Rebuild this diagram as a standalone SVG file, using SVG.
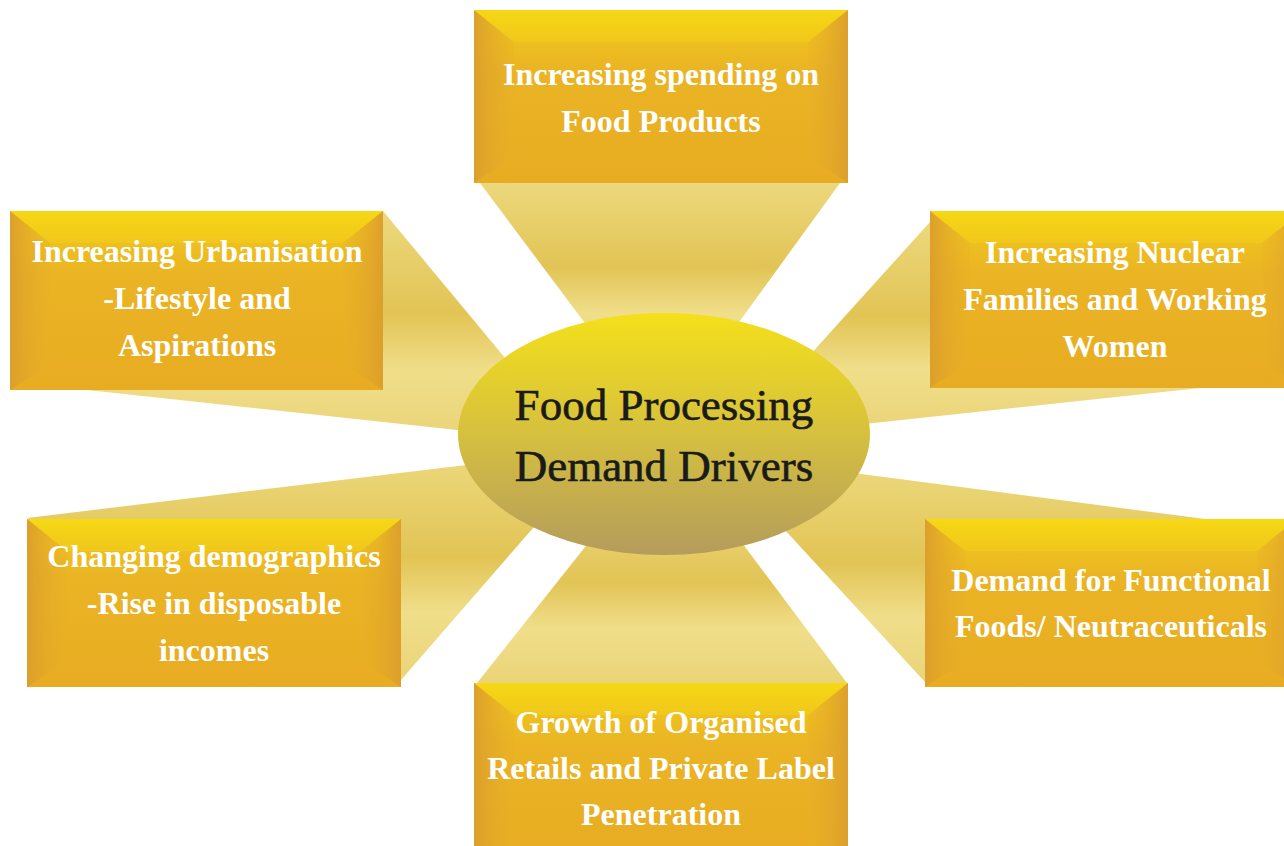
<svg xmlns="http://www.w3.org/2000/svg" width="1284" height="846" viewBox="0 0 1284 846">
<defs>
<linearGradient id="gBase" x1="0" y1="0" x2="0" y2="1">
<stop offset="0" stop-color="#f2cc1a"/>
<stop offset="0.35" stop-color="#eab424"/>
<stop offset="1" stop-color="#e8ac22"/>
</linearGradient>
<linearGradient id="gTop" x1="0" y1="0" x2="0" y2="1">
<stop offset="0" stop-color="#f6d814"/>
<stop offset="1" stop-color="#f2cc1a" stop-opacity="0.6"/>
</linearGradient>
<linearGradient id="gLeft" x1="0" y1="0" x2="1" y2="0">
<stop offset="0" stop-color="#dc9f2c"/>
<stop offset="1" stop-color="#e8b026" stop-opacity="0.3"/>
</linearGradient>
<linearGradient id="gRight" x1="1" y1="0" x2="0" y2="0">
<stop offset="0" stop-color="#dc9f2c"/>
<stop offset="1" stop-color="#e8b026" stop-opacity="0.3"/>
</linearGradient>
<linearGradient id="gBeam" x1="0" y1="0" x2="0" y2="1">
<stop offset="0" stop-color="#ecd87c"/>
<stop offset="0.45" stop-color="#e2c455"/>
<stop offset="0.7" stop-color="#f0de8a"/>
<stop offset="1" stop-color="#ead478"/>
</linearGradient>
<linearGradient id="gEll" x1="0" y1="0" x2="0" y2="1">
<stop offset="0" stop-color="#f4e01a"/>
<stop offset="0.5" stop-color="#d6c03e"/>
<stop offset="1" stop-color="#b49c5c"/>
</linearGradient>
</defs>
<style>
.lbl{font-family:"Liberation Serif","Times New Roman",serif;font-weight:bold;font-size:32px;fill:#ffffff;text-anchor:middle}
.ctr{font-family:"Liberation Serif","Times New Roman",serif;font-size:45px;fill:#1a1a1a;stroke:#1a1a1a;stroke-width:0.6;text-anchor:middle}
.base{fill:url(#gBase)}
.bt{fill:url(#gTop)}
.bl{fill:url(#gLeft)}
.br{fill:url(#gRight)}
.beam{fill:url(#gBeam)}
</style>
<rect width="1284" height="846" fill="#ffffff"/>
<g id="connectors">
<polygon class="beam" points="480,183 840,183 710,362 620,370"/>
<polygon class="beam" points="383,211 540,400 540,439 87,390"/>
<polygon class="beam" points="930,222 790,377 790,432 1200,388"/>
<polygon class="beam" points="27,518 540,456 560,497 401,680"/>
<polygon class="beam" points="1205,519 800,466 760,503 925,682"/>
<polygon class="beam" points="477,683 847,683 710,500 620,503"/>
</g>
<g id="center">
<ellipse cx="664" cy="434" rx="206" ry="121" fill="url(#gEll)"/>
<text class="ctr" x="664" y="420">Food Processing</text>
<text class="ctr" x="664" y="481">Demand Drivers</text>
</g>
<g id="n-top">
<rect class="base" x="474" y="10" width="374" height="173"/>
<polygon class="bt" points="474,10 848,10 808,42 514,42"/>
<polygon class="bl" points="474,10 514,42 514,157 474,183"/>
<polygon class="br" points="848,10 808,42 808,157 848,183"/>
<text class="lbl" x="661" y="85">Increasing spending on</text>
<text class="lbl" x="661" y="132">Food Products</text>
</g>
<g id="n-urban">
<rect class="base" x="10" y="211" width="373" height="179"/>
<polygon class="bt" points="10,211 383,211 343,243 50,243"/>
<polygon class="bl" points="10,211 50,243 50,364 10,390"/>
<polygon class="br" points="383,211 343,243 343,364 383,390"/>
<text class="lbl" x="197" y="262">Increasing Urbanisation</text>
<text class="lbl" x="197" y="309">-Lifestyle and</text>
<text class="lbl" x="197" y="356">Aspirations</text>
</g>
<g id="n-nuclear">
<rect class="base" x="930" y="211" width="372" height="177"/>
<polygon class="bt" points="930,211 1302,211 1262,243 970,243"/>
<polygon class="bl" points="930,211 970,243 970,362 930,388"/>
<polygon class="br" points="1302,211 1262,243 1262,362 1302,388"/>
<text class="lbl" x="1115" y="263">Increasing Nuclear</text>
<text class="lbl" x="1115" y="310">Families and Working</text>
<text class="lbl" x="1115" y="357">Women</text>
</g>
<g id="n-demog">
<rect class="base" x="27" y="519" width="374" height="168"/>
<polygon class="bt" points="27,519 401,519 361,551 67,551"/>
<polygon class="bl" points="27,519 67,551 67,661 27,687"/>
<polygon class="br" points="401,519 361,551 361,661 401,687"/>
<text class="lbl" x="214" y="567">Changing demographics</text>
<text class="lbl" x="214" y="614">-Rise in disposable</text>
<text class="lbl" x="214" y="661">incomes</text>
</g>
<g id="n-functional">
<rect class="base" x="925" y="519" width="372" height="168"/>
<polygon class="bt" points="925,519 1297,519 1257,551 965,551"/>
<polygon class="bl" points="925,519 965,551 965,661 925,687"/>
<polygon class="br" points="1297,519 1257,551 1257,661 1297,687"/>
<text class="lbl" x="1111" y="591">Demand for Functional</text>
<text class="lbl" x="1111" y="637">Foods/ Neutraceuticals</text>
</g>
<g id="n-retail">
<rect class="base" x="474" y="683" width="374" height="175"/>
<polygon class="bt" points="474,683 848,683 808,715 514,715"/>
<polygon class="bl" points="474,683 514,715 514,846 474,846"/>
<polygon class="br" points="848,683 808,715 808,846 848,846"/>
<text class="lbl" x="661" y="733">Growth of Organised</text>
<text class="lbl" x="661" y="779">Retails and Private Label</text>
<text class="lbl" x="661" y="825">Penetration</text>
</g>
</svg>
